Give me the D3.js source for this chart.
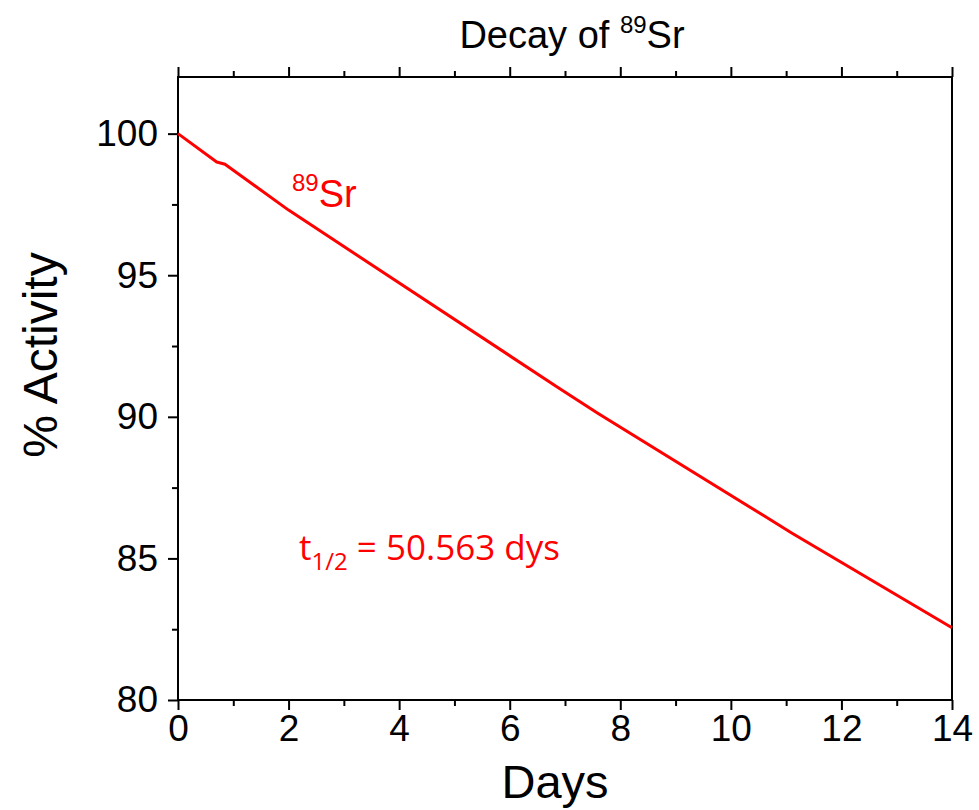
<!DOCTYPE html>
<html>
<head>
<meta charset="utf-8">
<script src="https://cdn.jsdelivr.net/npm/d3@7"></script>
<style>
  body { margin: 0; background: #fff; }
  text { font-family: "Liberation Sans", Arial, sans-serif; }
</style>
</head>
<body>
<script>
// Values.
const days = [0, 0.7, 0.85, 2.0, 6.9, 7.6, 11.1, 14];
const activity = [100, 99.0, 98.92, 97.3, 91.0, 90.12, 85.9, 82.55];
const x_major_ticks = [0, 2, 4, 6, 8, 10, 12, 14];
const x_minor_ticks = [1, 3, 5, 7, 9, 11, 13];
const y_major_ticks = [80, 85, 90, 95, 100];
const y_minor_ticks = [82.5, 87.5, 92.5, 97.5];

const WIDTH = 979;
const HEIGHT = 810;
const LEFT = 178, RIGHT = 952, TOP = 77, BOTTOM = 700;
const RED = '#ff0000';
const TICK_FONT = 37;

var svg = d3.select('body')
    .append('svg')
    .attr('width', WIDTH)
    .attr('height', HEIGHT);

var x = d3.scaleLinear().domain([0, 14]).range([LEFT, RIGHT]);
var y = d3.scaleLinear().domain([80, 102]).range([BOTTOM, TOP]);

function style_axis(g) {
    g.select('.domain').remove();
    g.selectAll('line').attr('stroke', '#000').attr('stroke-width', 2);
    g.selectAll('text').attr('fill', '#000').style('font-size', TICK_FONT + 'px')
        .style('font-family', '"Liberation Sans", Arial, sans-serif');
}

// bottom axis: major + minor ticks, outward
svg.append('g')
    .attr('transform', `translate(0,${BOTTOM})`)
    .call(d3.axisBottom(x).tickValues(x_major_ticks).tickSize(10).tickSizeOuter(0).tickPadding(5))
    .call(style_axis);
svg.append('g')
    .attr('transform', `translate(0,${BOTTOM})`)
    .call(d3.axisBottom(x).tickValues(x_minor_ticks).tickSize(6).tickSizeOuter(0).tickFormat(''))
    .call(style_axis);

// top axis: ticks only, pointing up
svg.append('g')
    .attr('transform', `translate(0,${TOP})`)
    .call(d3.axisTop(x).tickValues(x_major_ticks).tickSize(10).tickSizeOuter(0).tickFormat(''))
    .call(style_axis);
svg.append('g')
    .attr('transform', `translate(0,${TOP})`)
    .call(d3.axisTop(x).tickValues(x_minor_ticks).tickSize(6).tickSizeOuter(0).tickFormat(''))
    .call(style_axis);

// left axis
svg.append('g')
    .attr('transform', `translate(${LEFT},0)`)
    .call(d3.axisLeft(y).tickValues(y_major_ticks).tickSize(10).tickSizeOuter(0).tickPadding(10))
    .call(style_axis);
svg.append('g')
    .attr('transform', `translate(${LEFT},0)`)
    .call(d3.axisLeft(y).tickValues(y_minor_ticks).tickSize(6).tickSizeOuter(0).tickFormat(''))
    .call(style_axis);

// frame
svg.append('rect')
    .attr('x', LEFT).attr('y', TOP)
    .attr('width', RIGHT - LEFT).attr('height', BOTTOM - TOP)
    .attr('fill', 'none')
    .attr('stroke', '#000')
    .attr('stroke-width', 2);

// decay curve
var points = days.map((d, i) => [d, activity[i]]);
svg.append('path')
    .datum(points)
    .attr('fill', 'none')
    .attr('stroke', RED)
    .attr('stroke-width', 3)
    .attr('stroke-linejoin', 'round')
    .attr('d', d3.line().x(d => x(d[0])).y(d => y(d[1])));

// title
var title = svg.append('text')
    .attr('x', 572).attr('y', 48)
    .attr('text-anchor', 'middle')
    .style('font-size', '38px');
title.append('tspan').text('Decay of ');
title.append('tspan').attr('dy', -15).style('font-size', '24px').text('89');
title.append('tspan').attr('dy', 15).text('Sr');

// axis titles
svg.append('text')
    .attr('x', 555).attr('y', 798)
    .attr('text-anchor', 'middle')
    .style('font-size', '47px')
    .text('Days');
svg.append('text')
    .attr('transform', 'translate(57,355) rotate(-90)')
    .attr('text-anchor', 'middle')
    .style('font-size', '48px')
    .text('% Activity');

// series label
var sr_label = svg.append('text')
    .attr('x', 292).attr('y', 207)
    .attr('fill', RED)
    .style('font-size', '38px');
sr_label.append('tspan').attr('dy', -16).style('font-size', '24px').text('89');
sr_label.append('tspan').attr('dy', 16).text('Sr');

// half-life note
var half = svg.append('text')
    .attr('x', 299).attr('y', 560)
    .attr('fill', RED)
    .style('font-family', '"Open Sans", "Noto Sans", sans-serif')
    .style('font-size', '35px');
half.append('tspan').text('t');
half.append('tspan').attr('dy', 10).style('font-size', '24px').text('1/2');
half.append('tspan').attr('dy', -10).text(' = 50.563 dys');
</script>
</body>
</html>
